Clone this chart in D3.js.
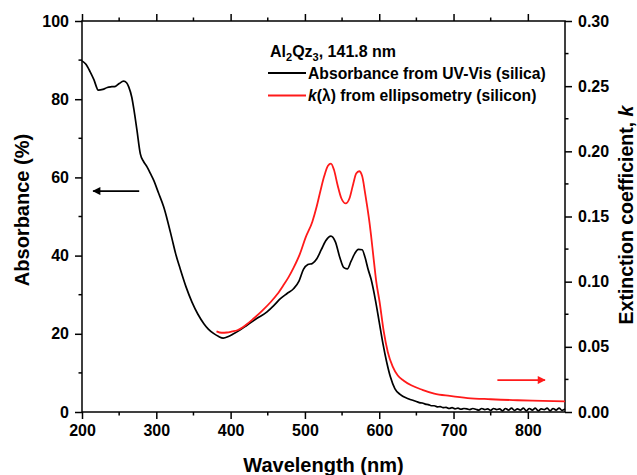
<!DOCTYPE html>
<html><head><meta charset="utf-8">
<script src="https://cdn.jsdelivr.net/npm/d3@7"></script>
<style>body{margin:0;background:#fff}svg{display:block}text{font-family:"Liberation Sans",Arial,sans-serif;font-weight:bold}</style>
</head><body>
<svg id="c" width="637" height="475"></svg>
<script>
const absWl = [200,205,211,216,222,228,234,240,245,250,256,260,263,267,270,274,278.5,283,287.5,292,296.4,303,310,315,321,326,332,340,348,356,364,370,377,384,390,397,404,413,422,435,449,458,467,476,485,492,498,504,510,516,522,528,535,541,547,552,557,562,567,572,577,581,585,589,595,600,605,610,615,621,628,639,
  650,654,658,662,666,670,674,678,682,686,690,694,698,702,706,710,714,718,722,726,730,734,738,742,746,750,754,758,762,766,770,774,778,782,786,790,794,798,802,806,810,814,818,822,826,830,834,838,842,846,850];
const absVal = [89.8,89,87,85,82.3,82.5,83,83.2,83.3,84,84.6,84.2,83.1,80.5,77.2,72,66,64,62.7,61,59.3,56,52.4,49,44.4,40.5,36.7,32,28.1,25,22.6,21.2,20.1,19.3,18.9,19.3,20,21,22.2,23.9,25.6,27.2,29,30.3,31.6,33.5,36.5,37.7,38,39.2,41.5,43.8,45,43.5,39.5,37,36.6,38.5,40.5,41.6,41.5,39.5,36.5,34,28.5,23,17.5,12.8,9,6,4.5,3.4,
  2.7,2.4,2.3,2.0,1.9,1.6,1.6,1.3,1.4,1.1,1.2,0.9,1.1,0.8,1.0,0.7,0.9,0.8,0.6,0.9,0.7,0.5,0.9,0.6,0.8,0.4,0.9,0.6,0.8,0.3,0.9,0.5,1.0,0.4,0.8,0.5,1.0,0.3,0.9,0.5,1.0,0.3,0.8,0.6,1.0,0.3,0.9,0.5,1.0,0.4,0.8];
const kWl = [381,388,395,402,409,420,431,443,454,463,471,478,485,493,501,510,516,521,526,531,535,539,544,549,555,560,565,569,573,577,581,584,587,589,592,596,600.5,606,611.5,618,625,633,643,658,674,695,719,750,786,820,850];
const kVal = [0.0619,0.0608,0.0610,0.0618,0.0627,0.0665,0.0717,0.0780,0.0844,0.0905,0.0972,0.1035,0.111,0.121,0.134,0.146,0.158,0.170,0.181,0.189,0.1906,0.186,0.174,0.164,0.160,0.164,0.175,0.183,0.1847,0.181,0.168,0.157,0.145,0.1356,0.120,0.100,0.0844,0.062,0.046,0.035,0.028,0.024,0.0205,0.017,0.0141,0.0123,0.0107,0.0098,0.009,0.0086,0.0082];
const xTicks = [200,300,400,500,600,700,800];
const yTicks = [0,20,40,60,80,100];
const kTicks = [0,0.05,0.10,0.15,0.20,0.25,0.30];

const L=82,R=565,T=21,B=412;
const svg=d3.select("#c");
const x=d3.scaleLinear().domain([200,850]).range([L,R]);
const y=d3.scaleLinear().domain([0,100]).range([B,T]);
const yk=d3.scaleLinear().domain([0,0.30]).range([B,T]);

function styleAxis(g){g.selectAll("path,line").attr("stroke","#000").attr("stroke-width",1.5);
  g.selectAll("text").attr("font-size",16).attr("fill","#000");g.select(".domain").remove();}
const xMinor=d3.range(250,850,100);
const yMinor=d3.range(10,100,20);
const kMinor=d3.range(0.025,0.3,0.05);

function minor(g,vals,scale,orient,len){
  vals.forEach(v=>{const p=scale(v);
    if(orient==="b") g.append("line").attr("x1",p).attr("x2",p).attr("y1",B).attr("y2",B+len);
    if(orient==="t") g.append("line").attr("x1",p).attr("x2",p).attr("y1",T).attr("y2",T-len);
    if(orient==="l") g.append("line").attr("y1",p).attr("y2",p).attr("x1",L).attr("x2",L-len);
    if(orient==="r") g.append("line").attr("y1",p).attr("y2",p).attr("x1",R).attr("x2",R+len);
  });
  g.selectAll("line").attr("stroke","#000").attr("stroke-width",1.5);
}
const gx=svg.append("g").attr("transform",`translate(0,${B})`).call(d3.axisBottom(x).tickValues(xTicks).tickSize(7).tickPadding(6));
styleAxis(gx);
const gt=svg.append("g").attr("transform",`translate(0,${T})`).call(d3.axisTop(x).tickValues(xTicks).tickSize(7).tickFormat(""));
styleAxis(gt);
const gy=svg.append("g").attr("transform",`translate(${L},0)`).call(d3.axisLeft(y).tickValues(yTicks).tickSize(7).tickPadding(6));
styleAxis(gy);
const gk=svg.append("g").attr("transform",`translate(${R},0)`).call(d3.axisRight(yk).tickValues(kTicks).tickSize(7).tickPadding(6).tickFormat(d3.format(".2f")));
styleAxis(gk);
const gm=svg.append("g");
minor(gm,xMinor,x,"b",3.5);minor(gm,xMinor,x,"t",3.5);minor(gm,yMinor,y,"l",3.5);minor(gm,kMinor,yk,"r",3.5);

svg.append("rect").attr("x",L).attr("y",T).attr("width",R-L).attr("height",B-T).attr("fill","none").attr("stroke","#000").attr("stroke-width",1.5);

const line=d3.line().curve(d3.curveMonotoneX);
svg.append("path").attr("d",line(absWl.map((w,i)=>[x(w),y(absVal[i])]))).attr("fill","none").attr("stroke","#000").attr("stroke-width",1.7);
svg.append("path").attr("d",line(kWl.map((w,i)=>[x(w),yk(kVal[i])]))).attr("fill","none").attr("stroke","#ff1a1a").attr("stroke-width",1.8);

const defs=svg.append("defs");
function marker(id,col){defs.append("marker").attr("id",id).attr("viewBox","0 0 10 10").attr("refX",9).attr("refY",5).attr("orient","auto").attr("markerUnits","userSpaceOnUse").attr("markerWidth",13).attr("markerHeight",8)
  .append("path").attr("d","M0,0L10,5L0,10Z").attr("fill",col);}
marker("ab","#000");marker("ar","#ff1a1a");
svg.append("line").attr("x1",x(277)).attr("x2",x(215)).attr("y1",y(56.5)).attr("y2",y(56.5)).attr("stroke","#000").attr("stroke-width",1.8).attr("marker-end","url(#ab)");
svg.append("line").attr("x1",x(759)).attr("x2",x(823)).attr("y1",yk(0.0245)).attr("y2",yk(0.0245)).attr("stroke","#ff1a1a").attr("stroke-width",1.8).attr("marker-end","url(#ar)");

const lg=svg.append("g");
const t0=lg.append("text").attr("x",270).attr("y",57).attr("font-size",16);
t0.append("tspan").text("Al");t0.append("tspan").text("2").attr("font-size",11).attr("dy",4);
t0.append("tspan").text("Qz").attr("dy",-4);t0.append("tspan").text("3").attr("font-size",11).attr("dy",4);
t0.append("tspan").text(", 141.8 nm").attr("dy",-4);
lg.append("line").attr("x1",268).attr("x2",306).attr("y1",73).attr("y2",73).attr("stroke","#000").attr("stroke-width",1.8);
lg.append("text").attr("x",308).attr("y",78.5).attr("font-size",15.7).text("Absorbance from UV-Vis (silica)");
lg.append("line").attr("x1",268).attr("x2",306).attr("y1",95.5).attr("y2",95.5).attr("stroke","#ff1a1a").attr("stroke-width",1.8);
const t2=lg.append("text").attr("x",308).attr("y",100.5).attr("font-size",15.7);
t2.append("tspan").text("k").attr("font-style","italic");t2.append("tspan").text("(λ) from ellipsometry (silicon)");

svg.append("text").attr("x",(L+R)/2).attr("y",472).attr("text-anchor","middle").attr("font-size",20).text("Wavelength (nm)");
svg.append("text").attr("transform","translate(29,210) rotate(-90)").attr("text-anchor","middle").attr("font-size",20).text("Absorbance (%)");
const rt=svg.append("text").attr("transform","translate(633,215) rotate(-90)").attr("text-anchor","middle").attr("font-size",19.5);
rt.append("tspan").text("Extinction coefficient, ");rt.append("tspan").text("k").attr("font-style","italic");
</script>
</body></html>
